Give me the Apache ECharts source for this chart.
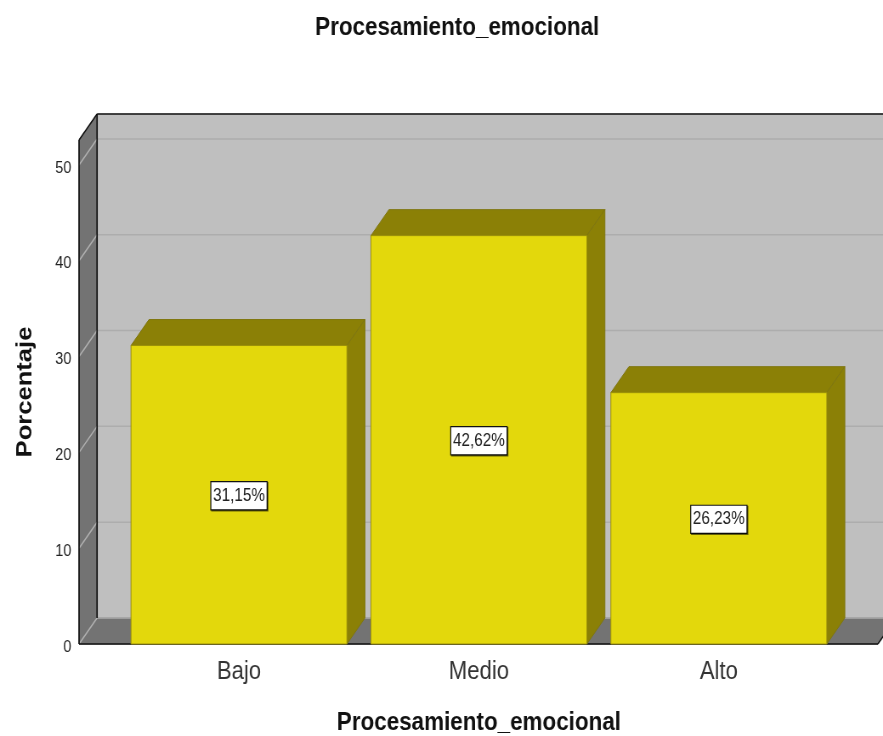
<!DOCTYPE html>
<html>
<head>
<meta charset="utf-8">
<style>
html,body{margin:0;padding:0;background:#fff;overflow:hidden}
#frame{width:883px;height:736px;overflow:hidden}
/* The drawing is laid out wider and condensed horizontally to its final width */
#chart{width:1039px;height:736px;transform:scaleX(0.84985);transform-origin:0 0}
</style>
<script src="https://cdn.jsdelivr.net/npm/echarts@6/dist/echarts.min.js"></script>
</head>
<body>
<div id="frame"><div id="chart"></div></div>
<script>
// Frequency percentages per level
const categories = ['Bajo', 'Medio', 'Alto'];
const percentages = [31.15, 42.62, 26.23];
const yTicks = [0, 10, 20, 30, 40, 50];
const yTop = 52.6;
const chartTitle = 'Procesamiento_emocional';
const xTitle = 'Procesamiento_emocional';
const yTitle = 'Porcentaje';

// Oblique projection of the box
const DX = 21.2, DY = -26;
const WALL_LEFT = 47, WALL_RIGHT = 46;
const FONT = '"Liberation Sans", Arial, sans-serif';

const poly = (points, fill, stroke) => ({
  type: 'polygon',
  shape: { points },
  style: { fill, stroke: stroke || fill, lineWidth: 1 }
});
const seg = (x1, y1, x2, y2, stroke, lineWidth) => ({
  type: 'line',
  shape: { x1, y1, x2, y2 },
  style: { stroke, lineWidth: lineWidth || 1, fill: null }
});

// Back wall, side wall, floor and their grid lines
function renderBox(params, api) {
  const cs = params.coordSys;
  const xl = cs.x - WALL_LEFT, xr = cs.x + cs.width + WALL_RIGHT;
  const y0 = api.coord([0, 0])[1], yT = api.coord([0, yTop])[1];
  const children = [
    poly([[xl + DX, yT + DY], [xr + DX, yT + DY], [xr + DX, y0 + DY], [xl + DX, y0 + DY]], '#bfbfbf'),
    poly([[xl, yT], [xl + DX, yT + DY], [xl + DX, y0 + DY], [xl, y0]], '#737373'),
    poly([[xl, y0], [xl + DX, y0 + DY], [xr + DX, y0 + DY], [xr, y0]], '#737373')
  ];
  yTicks.forEach(t => {
    const y = api.coord([0, t])[1];
    children.push(seg(xl + DX, y + DY, xr + DX, y + DY, '#adadad', 1.5));
    children.push(seg(xl, y, xl + DX, y + DY, '#b0b0b0', 1.5));
  });
  children.push(
    seg(xl, yT, xl, y0, '#111', 1.7),
    seg(xl, yT, xl + DX, yT + DY, '#111', 1.5),
    seg(xl + DX, yT + DY, xr + DX, yT + DY, '#111', 1.5),
    seg(xl + DX, yT + DY, xl + DX, y0 + DY, '#111', 1.7),
    seg(xl, y0, xr, y0, '#111', 1.5),
    seg(xr, y0, xr + DX, y0 + DY, '#111', 1.5)
  );
  return { type: 'group', children };
}

// One extruded bar with its boxed value label
function renderBar(params, api) {
  const idx = api.value(0), val = api.value(1);
  const [cx, yTopPx] = api.coord([idx, val]);
  const y0 = api.coord([idx, 0])[1];
  const half = api.size([1, 0])[0] * 0.45;
  const l = cx - half, r = cx + half;
  const front = '#e3d80c', shade = '#8b8006', edge = '#9c9108';
  return {
    type: 'group',
    children: [
      poly([[l, yTopPx], [l + DX, yTopPx + DY], [r + DX, yTopPx + DY], [r, yTopPx]], shade, '#7f7610'),
      poly([[r, yTopPx], [r + DX, yTopPx + DY], [r + DX, y0 + DY], [r, y0]], shade, '#7f7610'),
      poly([[l, yTopPx], [r, yTopPx], [r, y0], [l, y0]], front, edge),
      {
        type: 'text',
        x: cx,
        y: (yTopPx + y0) / 2 + 1,
        style: {
          text: val.toFixed(2).replace('.', ',') + '%',
          fontFamily: FONT,
          fontSize: 18,
          fill: '#222',
          align: 'center',
          verticalAlign: 'middle',
          backgroundColor: '#fff',
          borderColor: '#111',
          borderWidth: 1.2,
          padding: [5, 2, 4, 2],
          shadowColor: 'rgba(0,0,0,0.55)',
          shadowOffsetX: 1,
          shadowOffsetY: 1
        }
      }
    ]
  };
}

const chart = echarts.init(document.getElementById('chart'), null, { renderer: 'canvas' });
chart.setOption({
  animation: false,
  backgroundColor: '#fff',
  title: {
    text: chartTitle,
    left: 533,
    top: 10,
    textAlign: 'center',
    textStyle: { fontFamily: FONT, fontSize: 26.4, fontWeight: 'bold', color: '#111' }
  },
  grid: { left: 140, right: 52, top: 140, bottom: 92, outerBoundsMode: 'none' },
  xAxis: {
    type: 'category',
    data: categories,
    name: xTitle,
    nameLocation: 'middle',
    nameGap: 66,
    nameTextStyle: { fontFamily: FONT, fontSize: 26.4, fontWeight: 'bold', color: '#111' },
    axisLine: { show: false },
    axisTick: { show: false },
    axisLabel: { fontFamily: FONT, fontSize: 26, color: '#333', margin: 15 }
  },
  yAxis: {
    type: 'value',
    min: 0,
    max: yTop,
    interval: 10,
    offset: 47,
    name: yTitle,
    nameLocation: 'middle',
    nameGap: 50,
    nameTextStyle: { fontFamily: FONT, fontSize: 25.6, fontWeight: 'bold', color: '#111' },
    axisLine: { show: false },
    axisTick: { show: false },
    splitLine: { show: false },
    axisLabel: {
      fontFamily: FONT,
      fontSize: 17,
      color: '#222',
      margin: 9,
      verticalAlign: 'top',
      lineHeight: 6,
      showMaxLabel: false,
      formatter: v => (yTicks.includes(v) ? String(v) : '')
    }
  },
  series: [
    { type: 'custom', silent: true, renderItem: renderBox, data: [[0, 0]], encode: { x: 0, y: 1 }, z: 1 },
    { type: 'custom', silent: true, renderItem: renderBar, data: percentages.map((v, i) => [i, v]), encode: { x: 0, y: 1 }, z: 2 }
  ]
});
</script>
</body>
</html>
